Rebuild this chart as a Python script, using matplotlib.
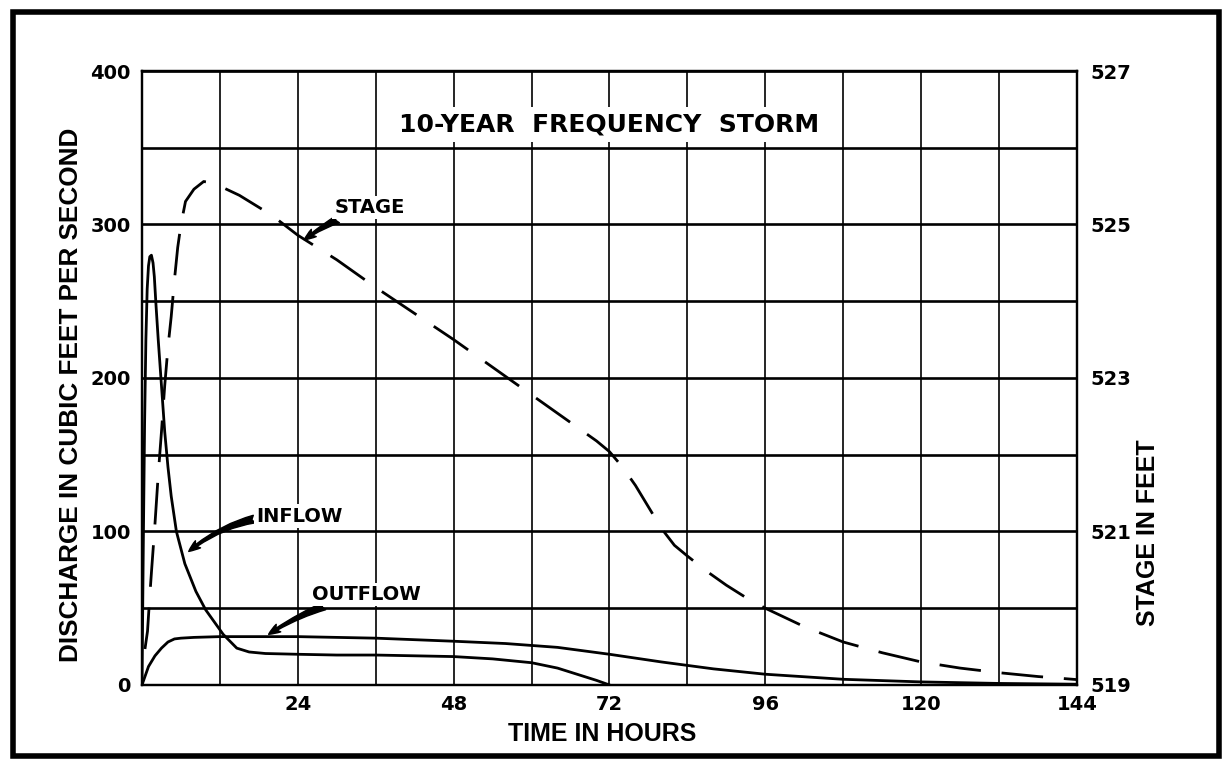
import numpy as np
import matplotlib
matplotlib.use("Agg")
import matplotlib.pyplot as plt
from matplotlib.patches import Rectangle

plt.rcParams["font.family"] = ["DejaVu Sans"]
plt.rcParams["font.weight"] = "bold"

# --- hydrograph, 10-year storm ---
# inflow, cfs
inflow_t = [0, 0.2, 0.4, 0.6, 0.8, 1.0, 1.2, 1.45, 1.7, 1.9, 2.15, 2.5, 3.0, 3.5,
            4.0, 4.5, 5.3, 6.6, 8.3, 9.8, 12.5, 14.6, 16.5, 19, 24, 30, 36, 42,
            48, 54, 60, 64, 67, 70, 72]
inflow_q = [0, 90, 170, 225, 258, 273, 279, 280, 275, 266, 248, 225, 195, 165,
            142, 123, 100, 79, 61, 49, 33, 24, 21.5, 20.5, 20, 19.5, 19.5, 19,
            18.5, 17, 14.5, 11, 7, 3, 0]

# outflow, cfs
outflow_t = [0, 1, 2, 3, 4, 5, 6, 8, 12, 24, 36, 48, 56, 64, 72, 80, 88, 96,
             108, 120, 132, 144]
outflow_q = [0, 12, 19, 24, 28, 30, 30.5, 31, 31.5, 31.5, 30.5, 28.5, 27, 24.5,
             20, 15, 10.5, 7, 3.7, 2, 1, 0.5]

# pool stage, feet
stage_t = [0, 0.85, 1.2, 1.5, 2.0, 2.5, 3.0, 3.5, 4.0, 4.5, 5.0, 5.5, 6.0, 6.7,
           8.0, 9.5, 11, 12.5, 15, 20, 24, 30, 36, 42, 48, 54, 60, 66, 70, 72,
           74, 76, 78, 80, 82, 84, 87, 90, 93, 96, 102, 108, 114, 120, 126, 132,
           138, 144]
stage_ft = [519.20, 519.70, 520.16, 520.52, 521.10, 521.74, 522.30, 522.90,
            523.40, 523.80, 524.28, 524.70, 525.00, 525.30, 525.46, 525.56,
            525.54, 525.48, 525.38, 525.12, 524.86, 524.54, 524.18, 523.84,
            523.50, 523.14, 522.78, 522.42, 522.18, 522.04, 521.84, 521.60,
            521.32, 521.04, 520.82, 520.68, 520.48, 520.30, 520.14, 520.00,
            519.76, 519.56, 519.42, 519.30, 519.22, 519.16, 519.11, 519.07]

hour_ticks = list(range(0, 145, 12))
hour_labels = ["" if (h == 0 or h % 24) else str(h) for h in hour_ticks]
cfs_ticks = list(range(0, 401, 50))
cfs_labels = [str(v) if v % 100 == 0 else "" for v in cfs_ticks]
stage_ticks = [519, 521, 523, 525, 527]

fig = plt.figure(figsize=(12.23, 7.61), dpi=100)
ax = fig.add_axes([0.1161, 0.0999, 0.7645, 0.8068])
ax.set_xlim(0, 144)
ax.set_ylim(0, 400)

ax.set_xticks(hour_ticks)
ax.set_xticklabels(hour_labels)
ax.set_yticks(cfs_ticks)
ax.set_yticklabels(cfs_labels)
ax.tick_params(length=0, labelsize=14, colors="black")
ax.tick_params(axis="x", pad=7)
ax.tick_params(axis="y", pad=8)
ax.xaxis.grid(True, color="black", lw=1.2)
ax.yaxis.grid(True, color="black", lw=1.9)
ax.set_axisbelow(True)
for s in ax.spines.values():
    s.set_linewidth(1.6)

ax.plot(inflow_t, inflow_q, color="black", lw=2.0, solid_joinstyle="round")
ax.plot(outflow_t, outflow_q, color="black", lw=2.0, solid_joinstyle="round")

ax2 = ax.twinx()
ax2.set_ylim(519, 527)
ax2.set_yticks(stage_ticks)
ax2.tick_params(length=0, labelsize=14, pad=10)
for s in ax2.spines.values():
    s.set_linewidth(1.6)
ax2.plot(stage_t, stage_ft, color="black", lw=2.0,
         linestyle=(15, (15, 7.5)), dash_capstyle="butt")

# labels on the curves
box = dict(facecolor="white", edgecolor="none", pad=1.5)
arrow = "fancy,head_length=0.6,head_width=0.45,tail_width=0.4"
ax.text(72, 365, "10-YEAR  FREQUENCY  STORM", ha="center", va="center",
        fontsize=18, bbox=dict(facecolor="white", edgecolor="none", pad=4))
ax.annotate("STAGE", xy=(25, 290), xytext=(29.6, 311), ha="left", va="center",
            fontsize=14, bbox=box,
            arrowprops=dict(arrowstyle=arrow, fc="black", ec="black",
                            shrinkA=0, shrinkB=0,
                            connectionstyle="arc3,rad=0.1"))
ax.annotate("INFLOW", xy=(7.2, 87), xytext=(17.6, 110), ha="left", va="center",
            fontsize=14, bbox=box,
            arrowprops=dict(arrowstyle=arrow, fc="black", ec="black",
                            shrinkA=0, shrinkB=0,
                            connectionstyle="arc3,rad=0.2"))
ax.annotate("OUTFLOW", xy=(19.5, 33), xytext=(26.2, 59), ha="left", va="center",
            fontsize=14, bbox=box,
            arrowprops=dict(arrowstyle=arrow, fc="black", ec="black",
                            shrinkA=0, shrinkB=0,
                            connectionstyle="arc3,rad=0.1"))

lab = dict(family=["Liberation Sans", "DejaVu Sans"], fontsize=18,
           fontweight="bold", ha="center", va="center")
fig.text(0.0580, 0.481, "DISCHARGE IN CUBIC FEET PER SECOND", rotation=90,
         **{**lab, "fontsize": 18.8})
fig.text(0.9387, 0.2996, "STAGE IN FEET", rotation=90, **lab)
fig.text(0.4922, 0.0355, "TIME IN HOURS", **lab)

# frame round the whole sheet
fig.patches.append(Rectangle((0.0106, 0.0066), 0.986, 0.9777,
                             transform=fig.transFigure, fill=False,
                             edgecolor="black", lw=4))

fig.savefig("out.png", dpi=100, facecolor="white")
